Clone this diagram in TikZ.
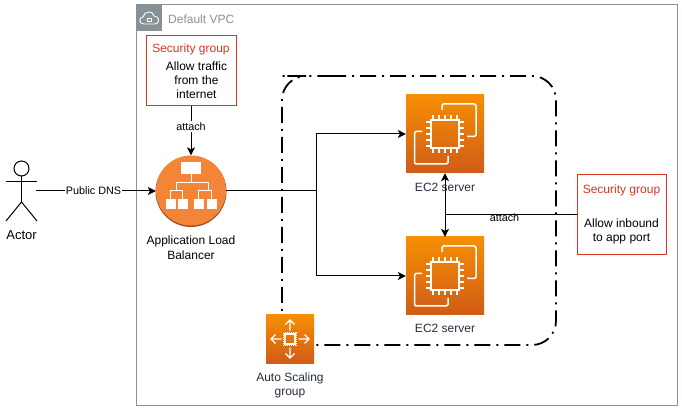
\documentclass[tikz,border=0pt]{standalone}
\usepackage{fontspec}
\usetikzlibrary{arrows.meta}
\setmainfont{Liberation Sans}
\definecolor{vpcgray}{HTML}{879196}
\definecolor{sgred}{HTML}{DD3522}
\definecolor{awsink}{HTML}{232F3E}
\definecolor{computetop}{HTML}{F78E04}
\definecolor{computebottom}{HTML}{D05C17}
\definecolor{albfill}{HTML}{F58536}
\definecolor{albshade}{HTML}{9D5025}
\tikzset{
    wire/.style={line width=1pt, black},
    label/.style={font=\fontsize{12}{12}\selectfont, inner sep=0pt, text height=8.6pt, text depth=0pt},
    small/.style={font=\fontsize{10.8}{11}\selectfont, inner sep=0pt, text height=7.8pt, text depth=0pt},
    sgbox/.style={draw=sgred, line width=1pt, fill=white, minimum width=90pt, inner sep=0pt},
    computebox/.style={top color=computetop, bottom color=computebottom, inner sep=0pt},
    chipline/.style={white, line width=1.5pt},
    ec2chip/.pic={
        \draw[chipline] (-14,-14) rectangle (14,14);
        \foreach \p in {-12,-6,0,6,12} {
            \draw[chipline, line width=1.2pt] (\p,-14) -- (\p,-19);
            \draw[chipline, line width=1.2pt] (\p,14) -- (\p,19);
            \draw[chipline, line width=1.2pt] (-14,\p) -- (-19,\p);
            \draw[chipline, line width=1.2pt] (14,\p) -- (19,\p);
        }
        \draw[chipline, rounded corners=1.5pt] (-3,-24) -- (-3,-30) -- (31,-30) -- (31,2.5) -- (22,2.5);
        \draw[chipline, rounded corners=1.5pt] (-23,-2.5) -- (-30.5,-2.5) -- (-30.5,30) -- (3,30) -- (3,22);
    },
    scalechip/.pic={
        \draw[white, line width=1.2pt] (-5,-5) rectangle (5,5);
        \draw[white, line width=1pt, densely dotted] (-6.5,-6.5) rectangle (6.5,6.5);
        \foreach \r in {0,90,180,270} {
            \draw[white, line width=1.3pt, rotate=\r] (0,-8.5) -- (0,-19) (-4.5,-14.5) -- (0,-19) -- (4.5,-14.5);
        }
    },
}
\begin{document}
\begin{tikzpicture}[x=1pt,y=-1pt,>={Stealth[length=8pt,width=8pt,inset=2pt]}]
    \useasboundingbox (0,0) rectangle (682,411);
    \draw[vpcgray, line width=1pt] (136.5,5) rectangle (677,405);
    \fill[vpcgray] (136.5,5) rectangle (162,31);
    \draw[white, line width=0.9pt] (144,24) .. controls (138,24) and (139,17) .. (143,17) .. controls (144,11) and (153,10) .. (154,16) .. controls (160,16) and (160,24) .. (155,24) -- cycle;
    \draw[white, line width=0.7pt] (147.5,18.5) rectangle (151.5,21.5);
    \node[label, text=vpcgray, anchor=west] (vpclabel) at (168,19) {Default VPC};

    \draw[line width=1.8pt, dash pattern=on 16pt off 6pt on 2pt off 6pt, rounded corners=24pt] (306,76) -- (556,76) -- (556,345) -- (282,345) -- (282,76) -- cycle;

    \draw[wire] (21.5,176) -- (21.5,202);
    \draw[wire] (21.5,168.5) circle (7.5);
    \draw[wire] (6,182) -- (37,182);
    \draw[wire] (6,221) -- (21.5,202) -- (37,221);
    \node[font=\fontsize{13}{13}\selectfont, inner sep=0pt] (actorlabel) at (21.5,235) {Actor};
    \coordinate (actor) at (36,191);

    \node[sgbox, minimum height=70pt] (sgweb) at (191,70.5) {};
    \node[label, text=sgred] (sgwebtitle) at (191,48) {Security group};
    \node[label] (sgwebline1) at (196.5,66) {Allow traffic};
    \node[label] (sgwebline2) at (196.5,80) {from the};
    \node[label] (sgwebline3) at (196.5,94) {internet};

    \fill[albshade] (191,191.5) circle (35.5);
    \node[circle, fill=albfill, minimum size=70pt, inner sep=0pt] (alb) at (191,190.5) {};
    \fill[white] (181,162) rectangle (201,174);
    \fill[white] (165.5,199) rectangle (175.5,209);
    \fill[white] (177.5,199) rectangle (187.5,209);
    \fill[white] (193.5,199) rectangle (203.5,209);
    \fill[white] (206.5,199) rectangle (216.5,209);
    \draw[white, line width=0.9pt] (191,174) -- (191,182) (176,190) -- (176,182) -- (208,182) -- (208,190);
    \draw[white, line width=0.9pt] (170.5,199) -- (170.5,190) -- (182.5,190) -- (182.5,199);
    \draw[white, line width=0.9pt] (198.5,199) -- (198.5,190) -- (211.5,190) -- (211.5,199);
    \node[label] (alblabel) at (191,240.5) {Application Load};
    \node[label] (alblabel2) at (191,255) {Balancer};

    \node[computebox, minimum size=78pt] (econe) at (445,134) {};
    \pic at (econe) {ec2chip};
    \node[label, text=awsink] (econelabel) at (445,187) {EC2 server};
    \node[computebox, minimum size=78pt] (ectwo) at (445,276) {};
    \pic at (ectwo) {ec2chip};
    \node[label, text=awsink] (ectwolabel) at (445,328) {EC2 server};

    \node[computebox, minimum size=48pt] (scaling) at (290,339) {};
    \pic at (scaling) {scalechip};
    \node[label, text=awsink] (scalinglabel) at (290,377) {Auto Scaling};
    \node[label, text=awsink] (scalinglabel2) at (290,391) {group};

    \node[sgbox, minimum width=89pt, minimum height=80pt] (sgapp) at (621.5,215) {};
    \node[label, text=sgred] (sgapptitle) at (621.5,189) {Security group};
    \node[label] (sgappline1) at (621.5,223) {Allow inbound};
    \node[label] (sgappline2) at (621.5,237) {to app port};

    \draw[wire, ->] (actor) -- (alb.west |- actor) node[pos=0.48, small, fill=white, inner xsep=0.5pt, inner ysep=1.5pt] (dnslabel) {Public DNS};
    \draw[wire, ->] (sgweb.south) -- (alb.north) node[pos=0.42, small, fill=white, inner xsep=0.5pt, inner ysep=1.5pt] (attachweb) {attach};
    \coordinate (split) at (316,191);
    \draw[wire] (alb.east |- split) -- (split);
    \draw[wire, ->] (split) |- (econe.west);
    \draw[wire, ->] (split) |- (ectwo.west);

    \node[small] (attachapp) at (504.5,218) {attach};
    \coordinate (tee) at (445,215);
    \draw[wire, <->] (econe.south) -- (ectwo.north);
    \draw[wire] (sgapp.west) -- (tee);
\end{tikzpicture}
\end{document}
